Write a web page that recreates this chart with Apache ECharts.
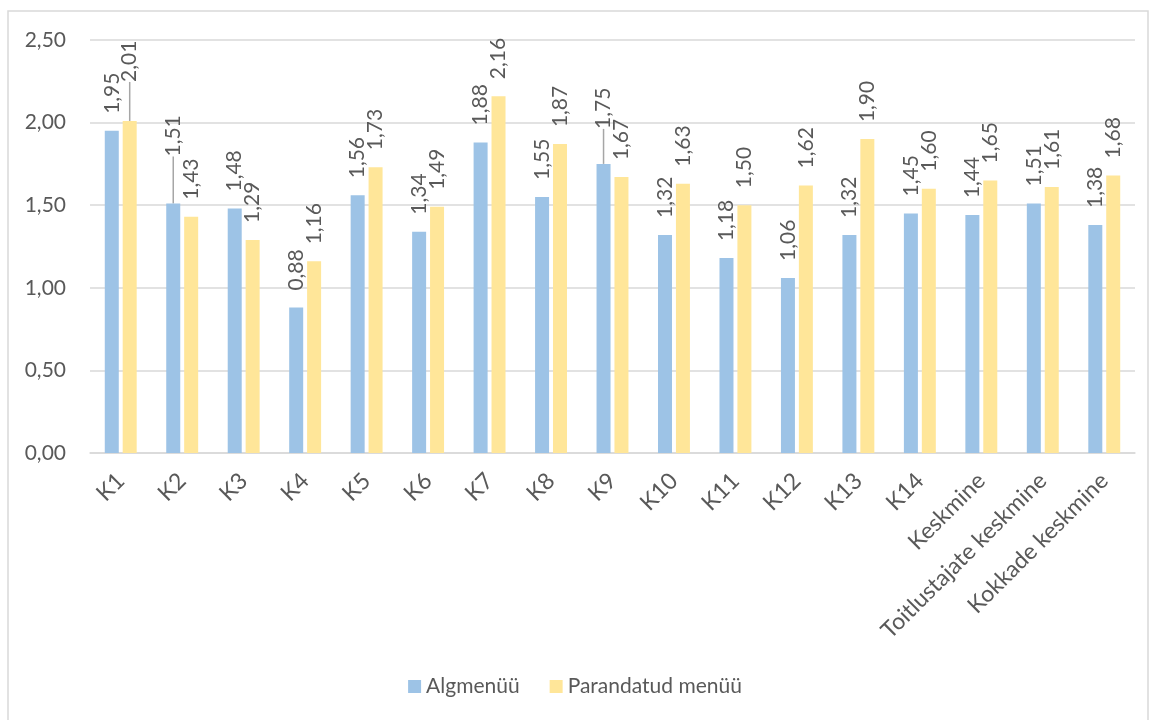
<!DOCTYPE html>
<html>
<head>
<meta charset="utf-8">
<script src="https://cdn.jsdelivr.net/npm/echarts@6/dist/echarts.min.js"></script>
<style>
  html, body { margin: 0; padding: 0; background: #fff; }
  #chart { width: 1150px; height: 720px; }
</style>
</head>
<body>
<div id="chart"></div>
<script>
const chart = echarts.init(document.getElementById('chart'))

const categories = ['K1', 'K2', 'K3', 'K4', 'K5', 'K6', 'K7', 'K8', 'K9', 'K10', 'K11', 'K12', 'K13', 'K14',
  'Keskmine', 'Toitlustajate keskmine', 'Kokkade keskmine']
const algmenuu = [1.95, 1.51, 1.48, 0.88, 1.56, 1.34, 1.88, 1.55, 1.75, 1.32, 1.18, 1.06, 1.32, 1.45, 1.44, 1.51, 1.38]
const parandatud = [2.01, 1.43, 1.29, 1.16, 1.73, 1.49, 2.16, 1.87, 1.67, 1.63, 1.50, 1.62, 1.90, 1.60, 1.65, 1.61, 1.68]

// labels that Excel pushed up with a leader line: [seriesIndex, dataIndex, extra offset]
const movedLabels = [[1, 0, 22], [0, 1, 30], [0, 8, 18]]

const textColor = '#595959'
const fontFamily = 'Lato, "Open Sans", sans-serif'

const fmt = (v) => v.toFixed(2).replace('.', ',')

function findMove(seriesIndex, dataIndex) {
  return movedLabels.find(([s, d]) => s === seriesIndex && d === dataIndex)
}

function makeData(values, seriesIndex) {
  return values.map((v, i) => {
    if (!findMove(seriesIndex, i)) return v
    return { value: v, labelLine: { show: true } }
  })
}

function barSeries(name, values, color, seriesIndex) {
  return {
    name: name,
    type: 'bar',
    data: makeData(values, seriesIndex),
    barWidth: 14,
    barGap: '28%',
    itemStyle: { color: color },
    label: {
      show: true,
      position: 'top',
      rotate: 90,
      align: 'left',
      verticalAlign: 'middle',
      distance: 17,
      color: textColor,
      fontFamily: fontFamily,
      fontSize: 21,
      formatter: (p) => fmt(p.value),
    },
    labelLine: {
      show: false,
      lineStyle: { color: '#a6a6a6', width: 1.5 },
    },
    // label is rotated 90deg, so its local x axis points up
    labelLayout: (params) => {
      const m = findMove(seriesIndex, params.dataIndex)
      return m ? { dx: m[2] } : {}
    },
  }
}

const option = {
  animation: false,
  textStyle: { fontFamily: fontFamily },
  graphic: [
    {
      type: 'rect',
      shape: { x: 8, y: 11, width: 1140, height: 720 },
      style: { fill: 'none', stroke: '#d9d9d9', lineWidth: 1.5 },
      silent: true,
    },
  ],
  grid: { left: 90, right: 15, top: 40, bottom: 267 },
  legend: {
    bottom: 18,
    left: 'center',
    itemWidth: 13,
    itemHeight: 13,
    itemGap: 30,
    icon: 'rect',
    textStyle: { color: textColor, fontSize: 21, fontFamily: fontFamily },
    data: ['Algmenüü', 'Parandatud menüü'],
  },
  xAxis: {
    type: 'category',
    data: categories,
    axisLine: { lineStyle: { color: '#d9d9d9', width: 1.5 } },
    axisTick: { show: false },
    axisLabel: {
      rotate: 45,
      interval: 0,
      margin: 24,
      color: textColor,
      fontSize: 23,
      fontFamily: fontFamily,
    },
  },
  yAxis: {
    type: 'value',
    min: 0,
    max: 2.5,
    interval: 0.5,
    axisLine: { show: false },
    axisTick: { show: false },
    splitLine: { lineStyle: { color: '#d9d9d9', width: 1.5 } },
    axisLabel: {
      margin: 24,
      color: textColor,
      fontSize: 21,
      fontFamily: fontFamily,
      formatter: (v) => fmt(v),
    },
  },
  series: [
    barSeries('Algmenüü', algmenuu, '#9dc3e6', 0),
    barSeries('Parandatud menüü', parandatud, '#ffe699', 1),
  ],
}

chart.setOption(option)
</script>
</body>
</html>
